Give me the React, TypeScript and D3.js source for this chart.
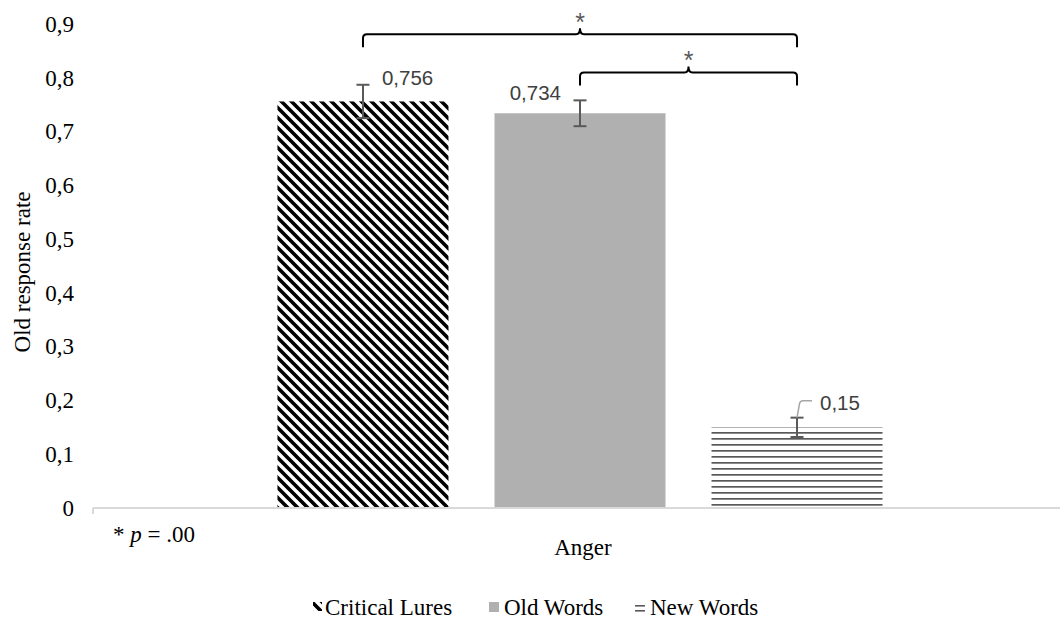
import React from 'react';
import * as d3 from 'd3';

// chart data
const categories = ['Anger'];
const series = ['Critical Lures', 'Old Words', 'New Words'];
const values = [0.756, 0.734, 0.15];
const errors = [0.031, 0.024, 0.018];
const valueLabels = ['0,756', '0,734', '0,15'];
const yTicks = [0, 0.1, 0.2, 0.3, 0.4, 0.5, 0.6, 0.7, 0.8, 0.9];
const yTitle = 'Old response rate';
const footnote = '.00';

const W = 1060;
const H = 623;
const SERIF = 'Liberation Serif';
const SANS = 'Liberation Sans';

// where Excel put each data label, relative to the bar top
const labelOffsets = [
    { dx: 19, dy: -16, anchor: 'start' },
    { dx: -19, dy: -13, anchor: 'end' },
    { dx: 23, dy: -17, anchor: 'start' },
];

const fills = ['url(#hatch)', '#b0b0b0', 'url(#hlines)'];

export default function App() {
    const y = d3.scaleLinear().domain([0, 0.9]).range([508, 24]);
    const x0 = d3.scaleBand().domain(categories).range([93, 1067]);
    const x1 = d3
        .scaleBand()
        .domain(series)
        .range([0, x0.bandwidth()])
        .paddingInner(0.212)
        .paddingOuter(0.85);

    const cx = (s: string) => (x0(categories[0]) ?? 0) + (x1(s) ?? 0) + x1.bandwidth() / 2;
    const fmt = (d: number) => (d === 0 ? '0' : d.toFixed(1).replace('.', ','));

    // significance brackets between bar centres
    const bracket = (xa: number, xb: number, yy: number) => {
        const xm = (xa + xb) / 2;
        const drop = 13;
        return `M${xa},${yy + drop} L${xa},${yy + 4} Q${xa},${yy} ${xa + 4},${yy} L${xm - 4},${yy} Q${xm},${yy} ${xm},${yy - 6} Q${xm},${yy} ${xm + 4},${yy} L${xb - 4},${yy} Q${xb},${yy} ${xb},${yy + 4} L${xb},${yy + drop}`;
    };
    const xa = cx(series[0]);
    const xb = cx(series[1]);
    const xc = cx(series[2]);
    const yBig = y(0.881);
    const ySmall = y(0.81);

    const newX = cx(series[2]);
    const newTop = y(values[2] + errors[2]);

    return (
        <svg width={W} height={H} style={{ position: 'absolute', left: 0, top: 0, background: '#fff' }}>
            <defs>
                <pattern id="hatch" patternUnits="userSpaceOnUse" width={10} height={10}>
                    <rect width={10} height={10} fill="#fff" />
                    <path d="M0,0 L10,10 M-2,8 L2,12 M8,-2 L12,2" stroke="#000" strokeWidth={3.6} />
                </pattern>
                <pattern id="hlines" patternUnits="userSpaceOnUse" width={6} height={6}>
                    <rect width={6} height={6} fill="#fff" />
                    <rect y={0} width={6} height={1.7} fill="#595959" />
                </pattern>
            </defs>

            {/* y tick labels */}
            {yTicks.map((t) => (
                <text
                    key={t}
                    x={74}
                    y={y(t)}
                    dy="0.34em"
                    textAnchor="end"
                    style={{ fontFamily: SERIF }}
                    fontSize={23}
                    fill="#000"
                >
                    {fmt(t)}
                </text>
            ))}

            <text
                transform={`translate(30,${(y(0) + y(0.9)) / 2 + 6}) rotate(-90)`}
                textAnchor="middle"
                style={{ fontFamily: SERIF }}
                fontSize={23}
            >
                {yTitle}
            </text>

            {/* bars */}
            {series.map((s, i) => (
                <rect
                    key={s}
                    x={(x0(categories[0]) ?? 0) + (x1(s) ?? 0)}
                    y={y(values[i])}
                    width={x1.bandwidth()}
                    height={y(0) - y(values[i])}
                    fill={fills[i]}
                />
            ))}

            {/* x axis */}
            <line x1={93} x2={1067} y1={y(0)} y2={y(0)} stroke="#d9d9d9" strokeWidth={2} />
            <line x1={93} x2={93} y1={y(0)} y2={y(0) + 6} stroke="#d9d9d9" strokeWidth={2} />
            <text
                x={(x0(categories[0]) ?? 0) + x0.bandwidth() / 2 + 3}
                y={555}
                textAnchor="middle"
                style={{ fontFamily: SERIF }}
                fontSize={23}
            >
                {categories[0]}
            </text>

            {/* error bars */}
            {series.map((s, i) => {
                const x = cx(s);
                const t = y(values[i] + errors[i]);
                const b = y(values[i] - errors[i]);
                return (
                    <g key={s} stroke="#595959" strokeWidth={2}>
                        <line x1={x} x2={x} y1={t} y2={b} />
                        <line x1={x - 6.5} x2={x + 6.5} y1={t} y2={t} />
                        <line x1={x - 6.5} x2={x + 6.5} y1={b} y2={b} />
                    </g>
                );
            })}

            {/* leader line for the small bar */}
            <path
                d={`M${newX},${newTop} L${newX + 2.5},${newTop - 14} Q${newX + 3},${newTop - 17} ${newX + 6},${newTop - 17} L${newX + 15},${newTop - 17}`}
                fill="none"
                stroke="#a6a6a6"
                strokeWidth={1.5}
            />

            {/* value labels */}
            {series.map((s, i) => (
                <text
                    key={s}
                    x={cx(s) + labelOffsets[i].dx}
                    y={y(values[i]) + labelOffsets[i].dy}
                    textAnchor={labelOffsets[i].anchor}
                    style={{ fontFamily: SANS }}
                    fontSize={20.5}
                    fill="#404040"
                >
                    {valueLabels[i]}
                </text>
            ))}

            {/* significance brackets */}
            <path d={bracket(xa, xc, yBig)} fill="none" stroke="#000" strokeWidth={2} />
            <path d={bracket(xb, xc, ySmall)} fill="none" stroke="#000" strokeWidth={2} />
            <text x={(xa + xc) / 2} y={yBig - 3} textAnchor="middle" style={{ fontFamily: SANS }} fontSize={25} fill="#595959">
                *
            </text>
            <text x={(xb + xc) / 2} y={ySmall - 3} textAnchor="middle" style={{ fontFamily: SANS }} fontSize={25} fill="#595959">
                *
            </text>

            {/* footnote */}
            <text x={113} y={542} style={{ fontFamily: SERIF }} fontSize={23}>
                {'* '}
                <tspan fontStyle="italic">p</tspan>
                {' = ' + footnote}
            </text>

            {/* legend */}
            <g style={{ fontFamily: SERIF }} fontSize={23}>
                <rect x={313} y={602} width={9} height={9} fill="url(#hatch)" />
                <text x={325} y={615}>
                    {series[0]}
                </text>
                <rect x={489} y={602} width={10} height={10} fill="#b0b0b0" />
                <text x={504} y={615}>
                    {series[1]}
                </text>
                <rect x={635} y={605} width={10} height={1.6} fill="#595959" />
                <rect x={635} y={610} width={10} height={1.6} fill="#595959" />
                <text x={650} y={615}>
                    {series[2]}
                </text>
            </g>
        </svg>
    );
}
